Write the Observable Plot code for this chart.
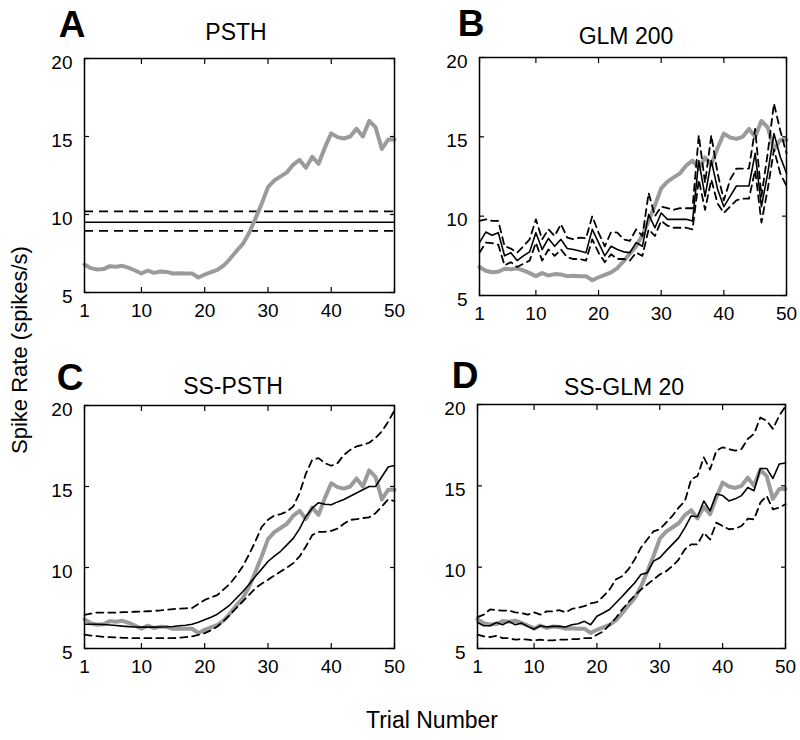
<!DOCTYPE html>
<html>
<head>
<meta charset="utf-8">
<script src="https://cdn.jsdelivr.net/npm/d3@7"></script>
<script src="https://cdn.jsdelivr.net/npm/@observablehq/plot@0.6"></script>
<style>
  html, body { margin: 0; padding: 0; background: white; }
  #wrap { position: relative; width: 800px; height: 740px; background: white; overflow: hidden; }
  .pane { position: absolute; }
  #labels { position: absolute; left: 0; top: 0; pointer-events: none; }
</style>
</head>
<body>
<div id="wrap">
  <div class="pane" id="pA" style="left:0px;top:0px"></div>
  <div class="pane" id="pB" style="left:400px;top:0px"></div>
  <div class="pane" id="pC" style="left:0px;top:350px"></div>
  <div class="pane" id="pD" style="left:400px;top:350px"></div>
</div>
<script>
// ---------- data ----------
const trials = Array.from({length: 50}, (_, i) => i + 1);
const xTicks = [1, 10, 20, 30, 40, 50];
const yTicks = [5, 10, 15, 20];
const panelLetters = ["A", "B", "C", "D"];
const panelTitles = ["PSTH", "GLM 200", "SS-PSTH", "SS-GLM 20"];
const xLabel = "Trial Number";
const yLabel = "Spike Rate (spikes/s)";

// observed rate (gray, same in every panel)
const observed = [6.8,6.56,6.47,6.5,6.69,6.65,6.71,6.58,6.41,6.22,6.41,6.26,6.35,6.32,6.22,6.24,6.22,6.22,5.96,6.15,6.3,6.45,6.73,7.16,7.65,8.1,8.8,9.72,10.68,11.75,12.18,12.44,12.7,13.2,13.5,13.0,13.7,13.25,14.3,15.2,14.96,14.87,15.0,15.5,15.0,16.0,15.6,14.2,14.8,14.8];

// A: PSTH (constant estimate with bounds)
const psthMean = 9.5;
const psthUpper = 10.2;
const psthLower = 8.95;

// B: GLM 200
const glmMean = [8.33,9.0,8.8,8.96,7.5,7.7,7.2,7.5,7.75,8.96,7.9,8.6,8.1,8.54,7.96,7.9,7.8,7.7,9.17,8.33,7.5,8.1,7.9,7.75,7.7,8.33,8.1,10.1,9.27,10.2,9.8,9.8,9.8,9.8,9.7,13.5,11.25,13.5,11.7,10.6,11.25,11.9,11.9,11.9,13.96,10.6,12.7,15.2,13.75,12.7];
const glmUpper = [9.7,9.8,9.7,9.7,8.1,7.96,7.7,8.1,8.54,9.8,8.54,9.17,8.75,9.5,8.65,8.54,8.65,8.6,10.0,8.96,8.1,9.0,8.96,8.54,8.44,9.17,8.75,11.46,10.0,10.6,10.5,10.4,10.5,10.5,10.5,15.1,12.1,15.1,12.7,11.0,12.3,13.0,13.0,13.0,15.5,11.25,13.96,17.1,15.4,13.96];
const glmLower = [7.7,8.33,8.3,8.2,6.9,7.1,6.8,7.0,7.2,8.33,7.2,7.9,7.5,7.9,7.4,7.3,7.3,7.2,8.54,7.7,7.1,7.6,7.3,7.3,7.2,7.7,7.5,9.17,8.75,9.7,9.4,9.27,9.27,9.27,9.17,12.3,10.4,12.3,10.8,10.2,10.6,11.0,11.1,11.1,12.9,9.6,11.7,14.2,12.7,11.9];

// C: SS-PSTH
const ssPsthMean = [6.5,6.5,6.5,6.48,6.45,6.42,6.38,6.35,6.33,6.32,6.32,6.32,6.33,6.34,6.36,6.4,6.44,6.5,6.62,6.77,6.93,7.12,7.4,7.7,8.1,8.5,8.95,9.44,9.9,10.37,10.7,11.0,11.4,11.8,12.4,13.15,13.66,14.0,13.9,13.87,14.05,14.2,14.4,14.6,14.8,15.0,15.0,15.6,16.2,16.3];
const ssPsthUpper = [7.08,7.15,7.22,7.22,7.22,7.22,7.24,7.25,7.27,7.28,7.3,7.32,7.35,7.39,7.43,7.46,7.48,7.5,7.75,8.0,8.15,8.3,8.65,9.0,9.5,10.06,10.8,11.6,12.5,12.94,13.2,13.3,13.45,13.77,14.6,15.8,16.65,16.75,16.44,16.28,16.44,16.95,17.26,17.47,17.57,17.7,18.0,18.4,19.0,19.7];
const ssPsthLower = [5.85,5.8,5.76,5.72,5.7,5.68,5.66,5.65,5.64,5.64,5.64,5.64,5.64,5.64,5.64,5.66,5.7,5.74,5.84,5.95,6.12,6.36,6.7,7.08,7.5,7.9,8.3,8.72,9.0,9.24,9.5,9.75,10.0,10.27,10.68,11.3,12.0,12.2,12.2,12.26,12.4,12.7,12.94,12.98,13.05,13.1,13.35,13.77,14.2,14.1];

// D: SS-GLM 20
const ssGlmMean = [6.6,6.4,6.4,6.6,6.46,6.67,6.46,6.56,6.36,6.19,6.4,6.32,6.36,6.36,6.32,6.46,6.52,6.67,6.46,6.98,7.18,7.4,7.8,8.2,8.62,9.03,9.55,9.65,10.37,10.58,11.0,11.4,11.8,12.43,13.15,13.1,14.07,13.46,14.5,14.4,14.07,14.2,14.4,14.9,14.7,16.07,16.07,15.45,16.34,16.4];
const ssGlmUpper = [6.93,7.08,7.4,7.36,7.33,7.33,7.22,7.18,7.08,7.22,7.08,7.28,7.28,7.36,7.22,7.43,7.5,7.6,7.77,7.85,8.2,8.62,9.24,9.44,9.86,10.47,11.2,11.7,12.2,12.33,12.74,13.15,13.66,14.07,15.4,15.6,16.75,16.0,17.16,17.37,17.26,17.16,17.26,17.88,18.2,19.2,19.0,18.5,19.3,19.9];
const ssGlmLower = [5.85,5.74,5.7,5.78,5.64,5.64,5.54,5.58,5.54,5.5,5.54,5.5,5.5,5.54,5.54,5.58,5.58,5.64,5.64,5.85,6.05,6.46,6.87,7.39,7.84,8.25,8.62,8.93,9.24,9.55,9.75,10.06,10.47,11.1,11.4,11.4,12.12,11.7,12.74,12.53,12.33,12.37,12.53,12.98,12.94,13.97,14.38,13.56,13.66,13.87];

// ---------- styles ----------
const FONT = "'Liberation Sans', Arial, Helvetica, sans-serif";
const GRAY = "#9b9b9b";
const DASH = "7,5";

function seriesLine(values, opts) {
  return Plot.line(values, {x: trials, y: d => d, ...opts});
}

function frameMarks() {
  return [
    Plot.frame({stroke: "black", strokeWidth: 1.5}),
    // tick labels
    Plot.axisX({anchor: "bottom", ticks: xTicks, tickSize: 0, tickPadding: 11, label: null, fontSize: 19, tickFormat: d => String(d)}),
    Plot.axisY({anchor: "left", ticks: yTicks, tickSize: 0, tickPadding: 12, label: null, fontSize: 19, dy: 4}),
    // inward tick marks on all four sides
    Plot.axisX({anchor: "bottom", ticks: xTicks, tickSize: -5, tickFormat: () => "", label: null, strokeWidth: 1.2}),
    Plot.axisX({anchor: "top", ticks: xTicks, tickSize: -5, tickFormat: () => "", label: null, strokeWidth: 1.2}),
    Plot.axisY({anchor: "left", ticks: yTicks, tickSize: -5, tickFormat: () => "", label: null, strokeWidth: 1.2}),
    Plot.axisY({anchor: "right", ticks: yTicks, tickSize: -5, tickFormat: () => "", label: null, strokeWidth: 1.2})
  ];
}

function makePlot(margins, marks) {
  return Plot.plot({
    width: 400,
    height: 340,
    ...margins,
    style: {fontFamily: FONT, fontSize: "19px", color: "black", background: "transparent", overflow: "visible"},
    x: {domain: [1, 50]},
    y: {domain: [5, 20]},
    marks: [...marks, ...frameMarks()]
  });
}

const bandMarks = (mean, upper, lower) => [
  seriesLine(observed, {stroke: GRAY, strokeWidth: 4}),
  seriesLine(upper, {stroke: "black", strokeWidth: 1.8, strokeDasharray: DASH}),
  seriesLine(lower, {stroke: "black", strokeWidth: 1.8, strokeDasharray: DASH}),
  seriesLine(mean, {stroke: "black", strokeWidth: 1.6})
];

const plotA = makePlot(
  {marginTop: 58, marginBottom: 48, marginLeft: 84, marginRight: 6},
  [
    Plot.ruleY([psthUpper], {stroke: "black", strokeWidth: 1.8, strokeDasharray: "9,6"}),
    Plot.ruleY([psthLower], {stroke: "black", strokeWidth: 1.8, strokeDasharray: "9,6"}),
    Plot.ruleY([psthMean], {stroke: "black", strokeWidth: 1.6}),
    seriesLine(observed, {stroke: GRAY, strokeWidth: 4})
  ]
);
const plotB = makePlot({marginTop: 57, marginBottom: 45, marginLeft: 79, marginRight: 14}, bandMarks(glmMean, glmUpper, glmLower));
const plotC = makePlot({marginTop: 55, marginBottom: 42, marginLeft: 84, marginRight: 6}, bandMarks(ssPsthMean, ssPsthUpper, ssPsthLower));
const plotD = makePlot({marginTop: 54, marginBottom: 42, marginLeft: 77, marginRight: 15}, bandMarks(ssGlmMean, ssGlmUpper, ssGlmLower));

document.getElementById("pA").append(plotA);
document.getElementById("pB").append(plotB);
document.getElementById("pC").append(plotC);
document.getElementById("pD").append(plotD);

// ---------- letters, titles, shared axis labels ----------
const svg = d3.select("#wrap").append("svg")
  .attr("id", "labels").attr("width", 800).attr("height", 740)
  .style("font-family", FONT);

const letterPos = [[72, 37], [471, 36], [70, 390], [465, 388]];
const titlePos = [[236, 40], [626, 44], [233, 394], [624, 395]];
panelLetters.forEach((L, i) => {
  svg.append("text").attr("x", letterPos[i][0]).attr("y", letterPos[i][1])
    .attr("text-anchor", "middle").attr("font-size", 37).attr("font-weight", "bold").text(L);
  svg.append("text").attr("x", titlePos[i][0]).attr("y", titlePos[i][1])
    .attr("text-anchor", "middle").attr("font-size", 23).text(panelTitles[i]);
});
svg.append("text").attr("transform", "translate(27,350) rotate(-90)")
  .attr("text-anchor", "middle").attr("font-size", 22).text(yLabel);
svg.append("text").attr("x", 432).attr("y", 728)
  .attr("text-anchor", "middle").attr("font-size", 23).text(xLabel);
</script>
</body>
</html>
